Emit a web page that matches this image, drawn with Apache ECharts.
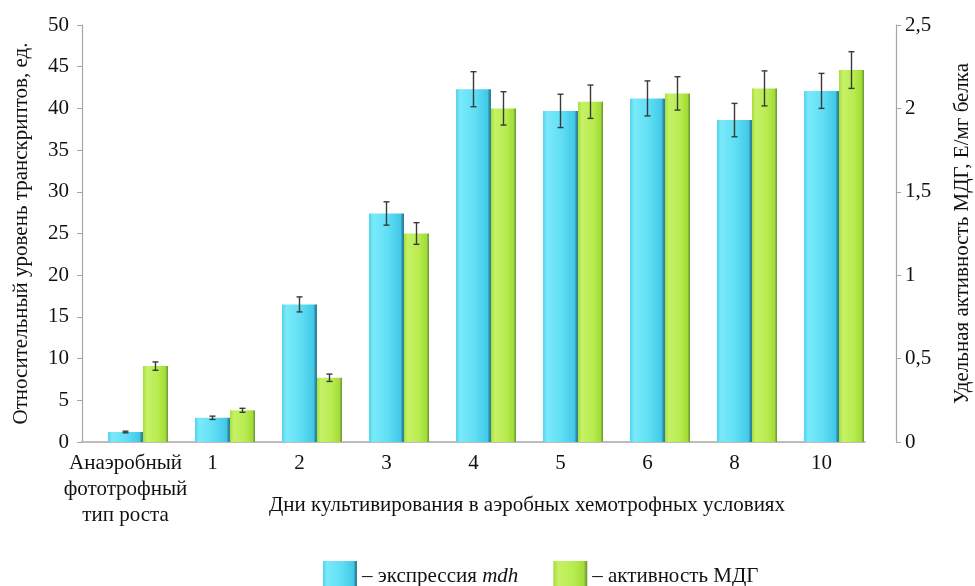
<!DOCTYPE html>
<html>
<head>
<meta charset="utf-8">
<script src="https://cdn.jsdelivr.net/npm/echarts@6/dist/echarts.min.js"></script>
<style>
  html, body { margin: 0; padding: 0; background: #fff; }
  #chart { width: 975px; height: 586px; }
</style>
</head>
<body>
<div id="chart"></div>
<script>
// Categories: growth type / days of cultivation
const categories = ['Анаэробный\nфототрофный\nтип роста', '1', '2', '3', '4', '5', '6', '8', '10'];

// mdh expression, relative transcript level (left axis)
const mdhExpression = [1.2, 2.9, 16.5, 27.4, 42.3, 39.7, 41.2, 38.6, 42.1];
const mdhError = [0.1, 0.2, 0.9, 1.4, 2.1, 2.0, 2.1, 2.0, 2.1];

// MDH specific activity, U/mg protein (right axis)
const mdhActivity = [0.455, 0.19, 0.385, 1.25, 2.0, 2.04, 2.09, 2.12, 2.23];
const activityError = [0.025, 0.012, 0.022, 0.065, 0.1, 0.1, 0.1, 0.105, 0.11];

// Tick settings
const leftMax = 50, leftStep = 5;
const rightMax = 2.5, rightStep = 0.5;

const FONT = '"Liberation Serif", "DejaVu Serif", serif';
const FS = 21;
const AXIS_GRAY = '#a6a6a6';

const cyanFill = {
  type: 'linear', x: 0, y: 0, x2: 1, y2: 0,
  colorStops: [
    { offset: 0, color: '#52d3ec' },
    { offset: 0.12, color: '#7aeafa' },
    { offset: 0.55, color: '#5fdef4' },
    { offset: 0.9, color: '#42c8e8' },
    { offset: 0.95, color: '#2f8fa8' },
    { offset: 1, color: '#2c7d94' }
  ]
};
const greenFill = {
  type: 'linear', x: 0, y: 0, x2: 1, y2: 0,
  colorStops: [
    { offset: 0, color: '#a8de3c' },
    { offset: 0.15, color: '#c6f166' },
    { offset: 0.6, color: '#b8ec50' },
    { offset: 0.9, color: '#a2dc36' },
    { offset: 0.96, color: '#7aa838' },
    { offset: 1, color: '#6e9a34' }
  ]
};

function errorBars(values, errors, xIdx, yIdx) {
  return {
    type: 'custom',
    xAxisIndex: xIdx,
    yAxisIndex: yIdx,
    silent: true,
    z: 10,
    data: values.map((v, i) => [i, v - errors[i], v + errors[i]]),
    renderItem: function (params, api) {
      const lo = api.coord([api.value(0), api.value(1)]);
      const hi = api.coord([api.value(0), api.value(2)]);
      const cap = 3;
      const style = { stroke: '#3a3a3a', lineWidth: 1.4 };
      return {
        type: 'group',
        children: [
          { type: 'line', shape: { x1: lo[0], y1: lo[1], x2: hi[0], y2: hi[1] }, style },
          { type: 'line', shape: { x1: lo[0] - cap, y1: lo[1], x2: lo[0] + cap, y2: lo[1] }, style },
          { type: 'line', shape: { x1: hi[0] - cap, y1: hi[1], x2: hi[0] + cap, y2: hi[1] }, style }
        ]
      };
    }
  };
}

const chart = echarts.init(document.getElementById('chart'), null, { renderer: 'canvas' });

chart.setOption({
  animation: false,
  backgroundColor: '#ffffff',
  textStyle: { fontFamily: FONT, color: '#111' },
  grid: [
    { left: 82, right: 110, top: 25, bottom: 144, containLabel: false, outerBoundsMode: 'none' },
    { left: 112, right: 80, top: 25, bottom: 144, containLabel: false, outerBoundsMode: 'none' }
  ],
  xAxis: [
    {
      type: 'category',
      gridIndex: 0,
      data: categories,
      axisLine: { lineStyle: { color: AXIS_GRAY, width: 1.5 } },
      axisTick: { show: false },
      axisLabel: {
        fontFamily: FONT, fontSize: FS, color: '#111', margin: 8,
        lineHeight: 26, interval: 0
      }
    },
    {
      type: 'category',
      gridIndex: 1,
      data: categories,
      show: false
    }
  ],
  yAxis: [
    {
      type: 'value',
      gridIndex: 0,
      min: 0, max: leftMax, interval: leftStep,
      name: 'Относительный уровень транскриптов, ед.',
      nameLocation: 'middle',
      nameRotate: 90,
      nameGap: 50,
      nameTextStyle: { fontFamily: FONT, fontSize: FS, color: '#111' },
      axisLine: { show: true, lineStyle: { color: AXIS_GRAY, width: 1.2 } },
      axisTick: { show: true, length: 5, lineStyle: { color: AXIS_GRAY } },
      splitLine: { show: false },
      axisLabel: { fontFamily: FONT, fontSize: FS, color: '#111', margin: 13 }
    },
    {
      type: 'value',
      gridIndex: 1,
      position: 'right',
      offset: 1,
      min: 0, max: rightMax, interval: rightStep,
      name: 'Удельная активность МДГ, Е/мг белка',
      nameLocation: 'middle',
      nameRotate: 90,
      nameGap: 56,
      nameTextStyle: { fontFamily: FONT, fontSize: FS, color: '#111' },
      axisLine: { show: true, lineStyle: { color: AXIS_GRAY, width: 1.2 } },
      axisTick: { show: true, length: 5, lineStyle: { color: AXIS_GRAY } },
      splitLine: { show: false },
      axisLabel: {
        fontFamily: FONT, fontSize: FS, color: '#111', margin: 9,
        formatter: v => String(v).replace('.', ',')
      }
    }
  ],
  legend: {
    left: 318,
    top: 556,
    itemWidth: 34,
    itemHeight: 30,
    itemGap: 35,
    icon: 'rect',
    data: ['mdh', 'МДГ'],
    formatter: function (name) {
      return name === 'mdh' ? '{a|– экспрессия }{b|mdh}' : '{a|– активность МДГ}';
    },
    textStyle: {
      fontFamily: FONT, fontSize: FS, color: '#111',
      rich: {
        a: { fontFamily: FONT, fontSize: FS, color: '#111' },
        b: { fontFamily: FONT, fontSize: FS, color: '#111', fontStyle: 'italic' }
      }
    }
  },
  graphic: [
    {
      type: 'text',
      x: 527,
      y: 495,
      style: {
        text: 'Дни культивирования в аэробных хемотрофных условиях',
        font: FS + 'px ' + FONT,
        fill: '#111',
        textAlign: 'center'
      }
    }
  ],
  series: [
    {
      name: 'mdh',
      type: 'bar',
      xAxisIndex: 0,
      yAxisIndex: 0,
      barWidth: 35,
      data: mdhExpression,
      itemStyle: { color: cyanFill }
    },
    {
      name: 'МДГ',
      type: 'bar',
      xAxisIndex: 1,
      yAxisIndex: 1,
      barWidth: 25,
      data: mdhActivity,
      itemStyle: { color: greenFill }
    },
    errorBars(mdhExpression, mdhError, 0, 0),
    errorBars(mdhActivity, activityError, 1, 1)
  ]
});
</script>
</body>
</html>
